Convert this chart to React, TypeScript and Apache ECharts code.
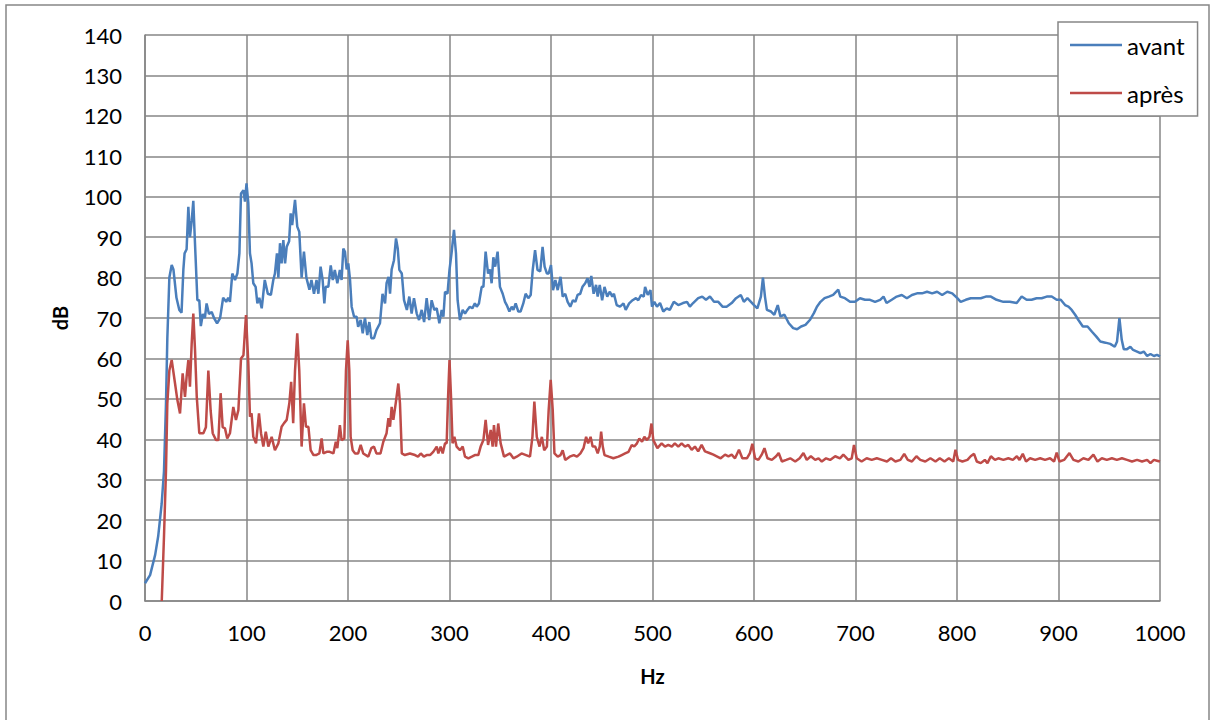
import { useEffect, useRef } from "react";
import * as echarts from "echarts";

// [Hz, dB] points
const avant: [number, number][] = [
  [0, 4.4], [5, 6.4], [10, 11.4], [13, 16], [16.4, 24], [18.7, 32], [20.7, 49], [22, 65], [24, 80], [26.3, 83.1],
  [28, 82], [31, 75], [33.8, 72], [36, 71.3], [37.8, 82], [39, 86], [41, 87], [42.7, 97.5], [44.3, 90], [46, 94],
  [47.6, 99], [49, 90], [51.6, 74.4], [53.5, 74.4], [55, 68], [57, 71], [59, 70], [60.7, 73.6], [63, 71], [65.7, 71.5],
  [68, 70], [71, 68.7], [74, 70], [77, 75], [80, 74], [82, 75], [83.7, 74], [86, 81], [88.7, 79.4], [91, 81],
  [93, 86], [94.6, 100.8], [97, 101.6], [98.5, 98.8], [100, 103.3], [101.8, 98.4], [103.4, 86], [105, 83.5], [106.7, 78.6], [109, 77.7],
  [110.7, 73.6], [112.6, 75], [115, 72.4], [118, 79.4], [121, 76], [124, 75.7], [126.4, 79.4], [128, 81], [130, 86], [131.4, 80],
  [133, 88.5], [134.6, 83.5], [136.3, 89.3], [138, 83.5], [139.6, 87.6], [142, 89], [143.5, 95.9], [145, 93], [147.8, 99.2], [150, 92.6],
  [152, 91.3], [154.3, 80], [156.6, 86.4], [159, 80], [162, 77], [164, 79.4], [166.5, 76], [169, 79.4], [170.8, 76], [173, 82.7],
  [175, 79.4], [176.7, 73.6], [178, 77.7], [180.6, 77.7], [183, 83], [185, 79.4], [187, 81.9], [189.5, 78.6], [192, 81.9], [193.7, 79.4],
  [195.4, 87.2], [197, 86.4], [198.7, 82], [200.3, 83.5], [202, 79.4], [203.6, 72.8], [206, 70.3], [208.5, 70.3], [210, 67.8], [212.5, 69.5],
  [214.5, 66.2], [216.7, 70], [219, 65.8], [221, 69], [223, 65], [225.6, 65], [228, 67], [231.5, 68.7], [234, 76], [236.5, 73.6],
  [238, 78.6], [240, 80.2], [241.4, 76], [243, 82], [245.3, 84.3], [247.3, 89.7], [249, 87.2], [250.6, 81.9], [253, 81], [255.2, 74.4],
  [258, 72], [260.4, 75.3], [262.7, 71.1], [265, 74.9], [267.7, 71.1], [270, 69.5], [272.6, 72], [275, 69], [277.5, 74.9], [280, 69.5],
  [282.4, 74.4], [285, 72], [287.4, 72.4], [290, 68.7], [292.3, 72], [294, 70.3], [295.6, 76.5], [298, 76], [300, 81.9], [302, 86],
  [304.4, 91.8], [306.4, 86], [308, 74.4], [310.3, 69.5], [313, 72], [315.3, 71.1], [317.6, 72], [320, 72.8], [322.5, 72.4], [325, 73.6],
  [326.8, 72.8], [329, 73.6], [331.7, 77.7], [333.4, 77.7], [335.6, 86.4], [338, 81], [339.9, 82], [341.5, 78.6], [343.2, 85], [345, 82.7],
  [347.4, 86.4], [349.7, 77.7], [352.4, 76], [354.7, 74], [356.4, 73.2], [359, 71.6], [361.3, 72.8], [363, 72], [365.2, 73.6], [367.8, 71.6],
  [370, 71.6], [372.7, 73.6], [375, 76], [377.6, 74.9], [380, 75.7], [382, 81.9], [384.3, 86.8], [386.7, 81.9], [389.4, 81.5], [391.7, 87.6],
  [393.7, 82.7], [396, 81], [397.7, 81], [400, 83.1], [402, 76.9], [404.3, 79.4], [406.6, 76.9], [409.4, 80.2], [411.5, 75.3], [414, 76],
  [416.4, 74], [419, 72.8], [421.6, 74.4], [424, 74], [426.2, 75.7], [428.8, 76], [431, 77.7], [433.7, 78.6], [436, 79.8], [438, 77.7],
  [439.7, 80.4], [442, 76], [444.4, 78.2], [446, 75.3], [448, 78.2], [450.4, 74.4], [452.7, 77.7], [455.4, 75.3], [458, 76.5], [460.4, 75.3],
  [462, 76], [464.7, 73.2], [468, 72.8], [471.4, 73.6], [473.6, 72], [477, 73.6], [480.4, 74.4], [483.7, 74.9], [486, 74.4], [488.7, 75.7],
  [491.4, 75.3], [492.7, 77.7], [495.3, 75.7], [498, 76.9], [499.5, 72.8], [501.8, 74], [504.4, 72.8], [507.4, 73.7], [510.6, 71.6], [514, 72.4],
  [517, 72], [521, 74], [525.4, 73.2], [530, 73.7], [534, 74], [536.8, 72.8], [540, 73.7], [545, 74.9], [549, 75.3], [552.7, 74.5],
  [556.6, 75.3], [560.6, 74], [564.8, 74], [569, 72.8], [573, 72.8], [578, 73.7], [582.3, 74.9], [587, 75.7], [590, 74], [593.5, 74.9],
  [597, 74], [600, 73.2], [603.3, 72.4], [606.8, 75.3], [608.8, 80], [610.8, 75.3], [612.7, 72], [616.8, 71.6], [620, 70.8], [623.4, 73.2],
  [626, 70.4], [630, 70.8], [634.3, 68.7], [638.6, 67.5], [642.5, 67.2], [646.4, 67.9], [650.7, 68.3], [655, 69.5], [659, 71.2], [662, 72.8],
  [665.5, 74], [669.5, 74.9], [673.8, 75.3], [678, 75.7], [683, 77], [685, 75.3], [689.6, 74.9], [694.6, 74], [699.5, 74], [704.4, 74.9],
  [709.4, 74.5], [714.3, 74.5], [719.3, 74], [724.3, 74.5], [727.6, 75.3], [730.6, 73.7], [735.7, 74.5], [740.6, 75.3], [745.6, 75.7], [750.6, 74.9],
  [755.6, 75.7], [760.6, 76.1], [765.5, 76.1], [770.5, 76.5], [775.5, 76.1], [780.4, 76.5], [785.4, 75.7], [790.4, 76.5], [795.3, 76.1], [800.3, 74.9],
  [803.6, 74], [808.6, 74.5], [813.5, 74.9], [818.5, 74.9], [823.4, 74.9], [828.4, 75.3], [833.4, 75.3], [839, 74.5], [845.7, 74], [852, 74],
  [858.8, 73.7], [863.7, 75.3], [868.6, 74.5], [873.5, 74.5], [878.4, 74.9], [883.4, 74.9], [888.4, 75.3], [893.3, 75.3], [898.2, 74.5], [902.2, 74.5],
  [906.5, 73.2], [909.8, 72.8], [913, 72], [916.4, 70.8], [919.6, 69.5], [924, 67.9], [928.6, 67.9], [933, 66.6], [937.3, 65.4], [941.2, 64.2],
  [946.2, 63.9], [951, 63.6], [955.4, 62.9], [957.7, 64.2], [960, 70], [962.3, 64.6], [964.3, 62.3], [967.5, 62.3], [970.8, 62.9], [973.5, 62.1],
  [977.4, 61.7], [980.7, 61.3], [984, 61.7], [987.3, 60.6], [990.6, 61.1], [994, 60.6], [997, 60.9], [1000, 60.5],
];

const apres: [number, number][] = [
  [16.5, 0], [18.7, 15.9], [20.7, 32.4], [22, 48.9], [24, 57], [26.3, 59.6], [29.6, 53.8], [31.9, 49.7], [34.5, 46.4], [37.1, 56.3],
  [39.4, 50.5], [41, 55.5], [42.7, 59.6], [44.3, 53], [46, 63.7], [47.6, 71.1], [49.3, 62], [51, 50.5], [53.5, 41.5], [57.5, 41.5],
  [60, 43], [62.4, 57], [64.7, 47], [66.7, 41.5], [70, 39.8], [72.3, 39.8], [74.5, 51.4], [76.5, 43], [78.8, 42.7], [81, 40.2],
  [83.7, 41.5], [87, 48], [89.6, 44.8], [92, 47.2], [94.6, 60], [97, 60.8], [99.5, 70.7], [101.8, 58.8], [103.4, 45.6], [105, 46.4],
  [106.7, 40.6], [109.4, 39], [112.3, 46.4], [114.3, 41.5], [116.6, 38.2], [119, 41.9], [121.5, 38.2], [124.8, 40.6], [128, 37.3], [131.4, 39],
  [134.6, 43.1], [137, 44], [139.6, 44.8], [142.2, 48.9], [144, 54.2], [146, 44], [147.8, 57], [150, 66.2], [152, 57], [154.3, 38.2],
  [156.6, 48.9], [158.6, 43.1], [161, 43.1], [163.2, 37.3], [166, 36.1], [168.5, 36.1], [171.8, 36.5], [174, 40.2], [175.7, 36.5], [179, 36.9],
  [182, 36.9], [185.6, 36.5], [188, 39.4], [189.5, 37.8], [192, 43.5], [193.7, 39.8], [196.4, 40.2], [198, 57], [199.7, 64.5], [201.3, 57],
  [202.6, 40.6], [204.6, 37.3], [207, 36.5], [210, 36.5], [212.5, 38.6], [215, 36.5], [220, 35.7], [223, 37.8], [225.6, 38.2], [228, 36.5],
  [232, 36.5], [234.8, 39.4], [238, 41.5], [239.8, 45.2], [241.4, 43.1], [243, 48], [244.7, 44.8], [247, 48.9], [249.6, 53.8], [251.2, 48.9],
  [253, 36.5], [256, 36.1], [261, 36.5], [266, 36.1], [269, 35.7], [271.7, 36.5], [274.7, 35.7], [277.5, 36.1], [280.8, 36.1], [284, 36.9],
  [287.4, 38.2], [289, 36.5], [291.3, 38.2], [293.3, 36.5], [295.6, 39], [297.2, 39], [298.6, 50.5], [300, 59.6], [301.5, 50.5], [303, 39],
  [304.8, 40.6], [307, 38.2], [310.3, 37.3], [313, 38.2], [315.3, 35.7], [318.6, 35.3], [322, 35.7], [325, 36.1], [328.4, 36.1], [330.7, 38.2],
  [333.4, 39.8], [335.6, 44.8], [338, 38.6], [340.6, 42.3], [342.5, 38.2], [343.8, 43.5], [345.8, 38.2], [348, 43.9], [350.4, 39], [353.7, 35.7],
  [356.4, 36.1], [359.6, 36.5], [363, 35.3], [366.2, 35.7], [371, 36.5], [375.4, 36.1], [379.3, 35.7], [381.7, 40.6], [383.6, 49.3], [386, 40.6],
  [388.7, 38.2], [391, 40.6], [393.3, 37.3], [396, 38.2], [397.7, 47.2], [399.7, 54.7], [401.7, 47.2], [403.4, 36.5], [406.6, 35.7], [409.4, 36.1],
  [411.5, 37.3], [414, 34.9], [418.4, 35.7], [422.4, 36.1], [425.6, 35.7], [429, 36.5], [432, 37.8], [434.6, 40.6], [436.6, 39], [439, 40.6],
  [441, 38.2], [443.6, 38.2], [446, 36.5], [448, 38.2], [449.4, 41.9], [451, 38.2], [452.7, 36.1], [457, 35.7], [461.4, 35.3], [466.5, 35.7],
  [469.7, 36.1], [473, 36.5], [476.4, 36.9], [479.6, 38.6], [482, 38.2], [484.7, 39], [487, 40.2], [489.7, 39.4], [492, 40.6], [494.6, 39.8],
  [497, 40.6], [499, 43.9], [500.8, 39.8], [504.8, 37.8], [509, 39], [512.3, 38.2], [515.6, 38.6], [519, 38.2], [522, 39], [525.4, 38.2],
  [528.7, 39], [532, 38.2], [535.3, 38.6], [538.6, 37.4], [541.8, 38.2], [545, 37], [548.4, 38.6], [551.7, 37], [556, 36.6], [560, 36.2],
  [563.3, 35.8], [567.2, 35.3], [571.5, 36.2], [574.8, 35.8], [578, 36.2], [581.3, 35.3], [585.2, 37.4], [588.5, 35.3], [593, 35.3], [596, 36.6],
  [598.4, 38.9], [601, 35.3], [604.3, 34.9], [607.6, 36.2], [610.3, 37.8], [613.3, 35.3], [617.6, 34.9], [621.8, 35.8], [624.3, 36.6], [627.5, 34.5],
  [631.8, 34.9], [635.7, 35.3], [640.6, 34.5], [645, 35.3], [648.7, 36.6], [652, 34.9], [656, 35.8], [660.3, 34.9], [663.6, 35.3], [666.8, 34.5],
  [671, 35.3], [675, 34.9], [680, 35.8], [684.7, 35.3], [688, 36.2], [693, 34.9], [696.3, 35.3], [698.5, 38.6], [701.2, 35.3], [706, 34.5],
  [711, 35.3], [716, 34.9], [721, 35.3], [726, 34.9], [731, 34.5], [735, 35.3], [739.3, 34.5], [744.2, 34.9], [748, 36.4], [751.5, 34.9],
  [755.6, 34.5], [760, 35.8], [763.8, 34.9], [768.8, 34.5], [773.8, 35.3], [778.8, 34.5], [783, 35.3], [787.7, 34.5], [792, 35.3], [796.3, 34.5],
  [798.5, 37.4], [801, 34.9], [805.3, 34.5], [810.3, 34.9], [813.5, 35.8], [816.8, 36.4], [819.5, 34.5], [823.4, 34.1], [827.4, 34.9], [830, 34.1],
  [833.4, 35.8], [837.4, 34.9], [840.7, 35.3], [845.7, 34.9], [850.6, 35.3], [855, 34.9], [859, 35.8], [861.6, 34.9], [864.8, 36.4], [868, 34.5],
  [872, 35.3], [877, 34.9], [882, 35.3], [886.7, 34.9], [891.7, 35.3], [895.6, 34.5], [898.2, 36.7], [901, 34.5], [905.5, 34.9], [910.8, 36.6],
  [914.7, 34.9], [919.6, 34.5], [924.5, 35.3], [929.5, 34.9], [934.4, 36.2], [938.4, 34.5], [942.7, 35.3], [947.6, 34.9], [952.6, 35.3], [957.5, 34.9],
  [962.5, 35.3], [967.5, 34.9], [972.4, 34.5], [977.4, 34.9], [982.3, 34.5], [987.3, 34.9], [990.6, 34.1], [994, 34.9], [997, 34.7], [1000, 34.5],
];

const seriesNames = ["avant", "après"];
const seriesColors = ["#4A7EBB", "#BE4B48"];
const xAxisTitle = "Hz";
const yAxisTitle = "dB";

const FONT = "Lato, 'Liberation Sans', sans-serif";
const GRID = "#868686";

export default function App() {
  const ref = useRef<HTMLDivElement>(null);
  useEffect(() => {
    if (!ref.current) return;
    const chart = echarts.init(ref.current, undefined, { renderer: "svg" });
    chart.setOption({
      animation: false,
      backgroundColor: "#fff",
      textStyle: { fontFamily: FONT },
      graphic: [
        {
          type: "rect",
          shape: { x: 6, y: 5, width: 1203, height: 800 },
          style: { fill: "none", stroke: GRID, lineWidth: 1.5 },
          silent: true,
        },
      ],
      grid: { left: 145, right: 52, top: 35, bottom: 119, containLabel: false },
      legend: {
        data: seriesNames,
        orient: "vertical",
        left: 1058,
        top: 22,
        icon: "rect",
        itemWidth: 52,
        itemHeight: 2.5,
        itemGap: 24,
        itemTextGap: 6,
        padding: [11, 13, 11, 12],
        borderColor: GRID,
        borderWidth: 1.5,
        backgroundColor: "#fff",
        textStyle: { fontSize: 24, color: "#000", fontFamily: FONT },
      },
      xAxis: {
        type: "value",
        min: 0,
        max: 1000,
        interval: 100,
        name: xAxisTitle,
        nameLocation: "middle",
        nameGap: 65,
        nameTextStyle: { fontSize: 20, fontWeight: "bold", color: "#000", fontFamily: FONT },
        axisLine: { show: true, lineStyle: { color: GRID, width: 1.5 } },
        axisTick: { show: false },
        axisLabel: {
          fontSize: 22,
          color: "#000",
          margin: 20,
          fontFamily: FONT,
          formatter: (v: number) => String(v),
        },
        splitLine: { show: true, lineStyle: { color: GRID, width: 1.5 } },
      },
      yAxis: {
        type: "value",
        min: 0,
        max: 140,
        interval: 10,
        name: yAxisTitle,
        nameLocation: "middle",
        nameRotate: 90,
        nameGap: 75,
        nameTextStyle: { fontSize: 20, fontWeight: "bold", color: "#000", fontFamily: FONT },
        axisLine: { show: true, lineStyle: { color: GRID, width: 1.5 } },
        axisTick: { show: false },
        axisLabel: {
          fontSize: 22,
          color: "#000",
          margin: 23,
          fontFamily: FONT,
          formatter: (v: number) => String(v),
        },
        splitLine: { show: true, lineStyle: { color: GRID, width: 1.5 } },
      },
      series: [
        {
          name: seriesNames[0],
          type: "line",
          data: avant,
          showSymbol: false,
          color: seriesColors[0],
          lineStyle: { width: 2.5, color: seriesColors[0] },
        },
        {
          name: seriesNames[1],
          type: "line",
          data: apres,
          showSymbol: false,
          color: seriesColors[1],
          lineStyle: { width: 2.5, color: seriesColors[1] },
        },
      ],
    });
    return () => chart.dispose();
  }, []);
  return (
    <div
      ref={ref}
      style={{ position: "fixed", left: 0, top: 0, width: 1212, height: 720 }}
    />
  );
}
